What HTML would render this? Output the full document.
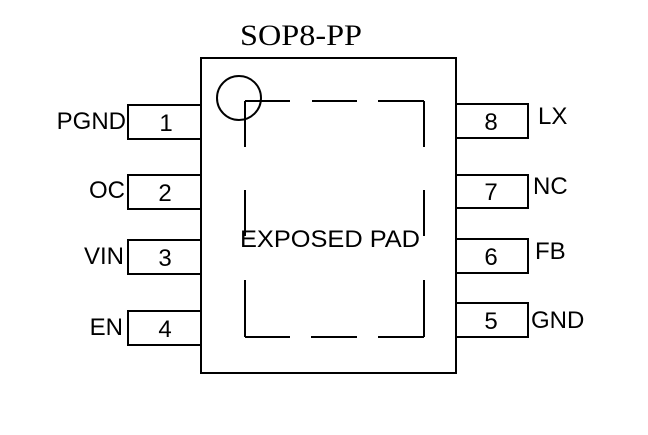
<!DOCTYPE html>
<html><head><meta charset="utf-8"><style>
html,body{margin:0;padding:0;background:#fff;}
svg{display:block;}
text{font-family:"Liberation Sans",sans-serif;fill:#000;}
</style></head><body>
<svg width="648" height="435" viewBox="0 0 648 435" xmlns="http://www.w3.org/2000/svg">
<g stroke="#000" stroke-width="2" fill="none">
<rect x="201" y="58" width="255" height="315"/>
<circle cx="239" cy="98" r="22"/>
<path d="M245 101H290M312 101H357M378 101H424M245 337H290M311 337H357M378 337H424M245 101V147M245 190V236M245 280V337M424 101V147M424 190V236M424 280V337"/>
<rect x="128" y="105" width="73" height="34"/>
<rect x="128" y="175" width="73" height="34"/>
<rect x="128" y="240" width="73" height="34"/>
<rect x="128" y="311" width="73" height="34"/>
<rect x="456" y="104" width="72" height="34"/>
<rect x="456" y="175" width="72" height="33"/>
<rect x="456" y="239" width="72" height="34"/>
<rect x="456" y="303" width="72" height="34"/>
</g>
<text x="301" y="45" text-anchor="middle" textLength="122" lengthAdjust="spacingAndGlyphs" style="font-family:'Liberation Serif',serif;font-size:30px">SOP8-PP</text>
<text x="240" y="247" textLength="180" lengthAdjust="spacingAndGlyphs" font-size="24">EXPOSED PAD</text>
<g font-size="24" text-anchor="middle">
<text x="166" y="131">1</text><text x="165" y="201">2</text><text x="165" y="266">3</text><text x="165" y="337">4</text>
<text x="491" y="130">8</text><text x="491" y="200">7</text><text x="491" y="265">6</text><text x="491" y="329">5</text>
</g>
<g font-size="24" text-anchor="end">
<text x="126" y="129">PGND</text><text x="125" y="198">OC</text><text x="124" y="264">VIN</text><text x="123" y="335">EN</text>
</g>
<g font-size="24">
<text x="538" y="124">LX</text><text x="533" y="194">NC</text><text x="535" y="259">FB</text><text x="531" y="328">GND</text>
</g>
</svg>
</body></html>
